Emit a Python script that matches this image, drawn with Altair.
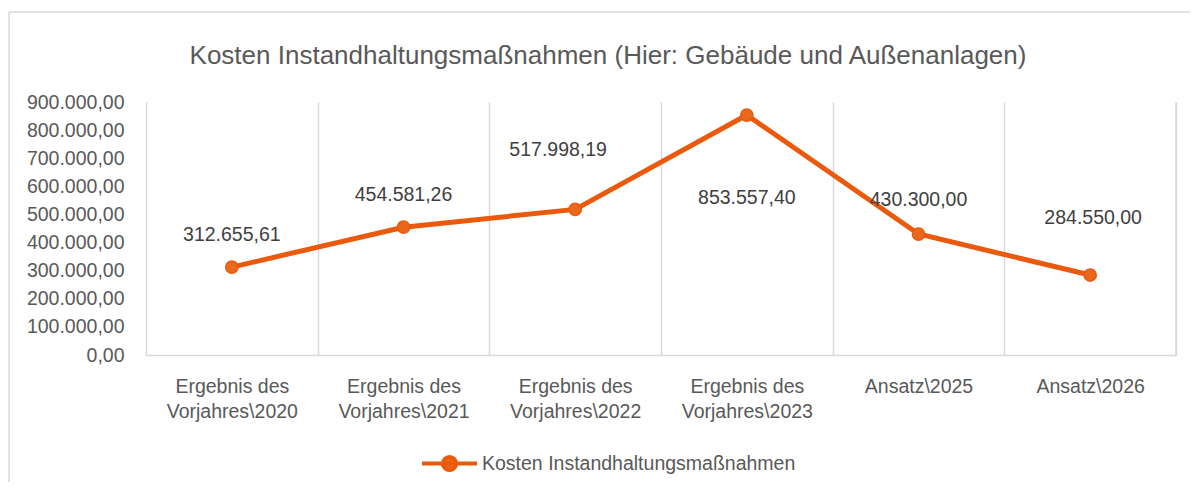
import altair as alt
import pandas as pd

categories = [
    "Ergebnis des Vorjahres\\2020",
    "Ergebnis des Vorjahres\\2021",
    "Ergebnis des Vorjahres\\2022",
    "Ergebnis des Vorjahres\\2023",
    "Ansatz\\2025",
    "Ansatz\\2026",
]
values = [312655.61, 454581.26, 517998.19, 853557.40, 430300.00, 284550.00]
series_name = "Kosten Instandhaltungsmaßnahmen"
title_text = "Kosten Instandhaltungsmaßnahmen (Hier: Gebäude und Außenanlagen)"
y_ticks = [0, 100000, 200000, 300000, 400000, 500000, 600000, 700000, 800000, 900000]

# placement of the data labels relative to their point (pixels)
label_dy = [-32, -32, -59, 83, -34, -57]
label_dx = [0, 0, -17, 0, 0, 3]


def de_fmt(v):
    return f"{v:,.2f}".replace(",", "#").replace(".", ",").replace("#", ".")


df = pd.DataFrame({
    "cat": categories,
    "val": values,
    "series": [series_name] * len(values),
    "label": [de_fmt(v) for v in values],
})

FONT = "Liberation Sans, Arial, sans-serif"
LINE = "#EB5A0C"
PFILL = "#E8691E"
GRID = "#D9D9D9"
W, H = 1030, 253
FS = 19.5

x_enc = alt.X(
    "cat:N",
    sort=categories,
    title=None,
    scale=alt.Scale(paddingInner=0, paddingOuter=0),
    axis=alt.Axis(
        labelAngle=0,
        labelFont=FONT,
        labelFontSize=FS,
        labelColor="#595959",
        labelLineHeight=25,
        labelPadding=22,
        labelLimit=300,
        labelExpr="split(replace(datum.label, ' Vorjahres', '|Vorjahres'), '|')",
        ticks=False,
        grid=True,
        gridColor=GRID,
        gridWidth=1.5,
        tickBand="extent",
        domainColor=GRID,
        domainWidth=1.5,
    ),
)
y_enc = alt.Y(
    "val:Q",
    title=None,
    scale=alt.Scale(domain=[0, 900000], nice=False),
    axis=alt.Axis(
        values=y_ticks,
        labelFont=FONT,
        labelFontSize=FS,
        labelColor="#595959",
        labelPadding=22,
        labelOverlap=False,
        labelExpr="replace(replace(replace(format(datum.value, ',.2f'), ',', '#'), '.', ','), '#', '.')",
        grid=False,
        ticks=False,
        domain=False,
    ),
)

base = alt.Chart(df)

line = base.mark_line(strokeWidth=5).encode(
    x=x_enc,
    y=y_enc,
    color=alt.Color(
        "series:N",
        scale=alt.Scale(range=[LINE]),
        legend=alt.Legend(
            title=None,
            orient="none",
            legendX=274,
            legendY=332,
            padding=0,
            symbolType="M -1 0 L 1 0 M 0.24 0 A 0.24 0.24 0 1 1 -0.24 0 A 0.24 0.24 0 1 1 0.24 0 Z",
            symbolSize=3025,
            symbolStrokeWidth=4,
            symbolFillColor=PFILL,
            symbolStrokeColor=LINE,
            labelFont=FONT,
            labelFontSize=FS,
            labelColor="#595959",
            labelOffset=3,
            labelLimit=600,
        ),
    ),
)

points = base.mark_point(filled=True, size=150, fill=PFILL, stroke=LINE, strokeWidth=1.5, opacity=1).encode(
    x=x_enc,
    y=y_enc,
)

label_layers = []
for cat, dy, dx in zip(categories, label_dy, label_dx):
    label_layers.append(
        base.transform_filter(alt.datum.cat == cat)
        .mark_text(font=FONT, fontSize=FS, color="#404040", dy=dy, dx=dx)
        .encode(x=x_enc, y=y_enc, text="label:N")
    )

one = alt.Chart(alt.Data(values=[{"a": 1}]))
right_edge = one.mark_rule(color=GRID, strokeWidth=1.5).encode(
    x=alt.value(W), y=alt.value(0), y2=alt.value(H)
)
border_top = one.mark_rule(color=GRID, strokeWidth=1.5).encode(
    x=alt.value(-137), x2=alt.value(1100), y=alt.value(-90)
)
border_left = one.mark_rule(color=GRID, strokeWidth=1.5).encode(
    x=alt.value(-137), y=alt.value(-90), y2=alt.value(420)
)

chart = (
    alt.layer(border_top, border_left, right_edge, line, points, *label_layers)
    .properties(
        width=W,
        height=H,
        title=alt.TitleParams(
            title_text,
            font=FONT,
            fontSize=26,
            fontWeight="normal",
            color="#595959",
            anchor="middle",
            frame="group",
            dx=-53,
            offset=-58,
        ),
        autosize=alt.AutoSizeParams(type="none"),
        padding={"left": 138, "top": 94, "right": 14, "bottom": 127},
        background="white",
    )
    .configure_view(stroke=None)
)

chart.save("out.html", embed_options={"renderer": "svg", "actions": False})
